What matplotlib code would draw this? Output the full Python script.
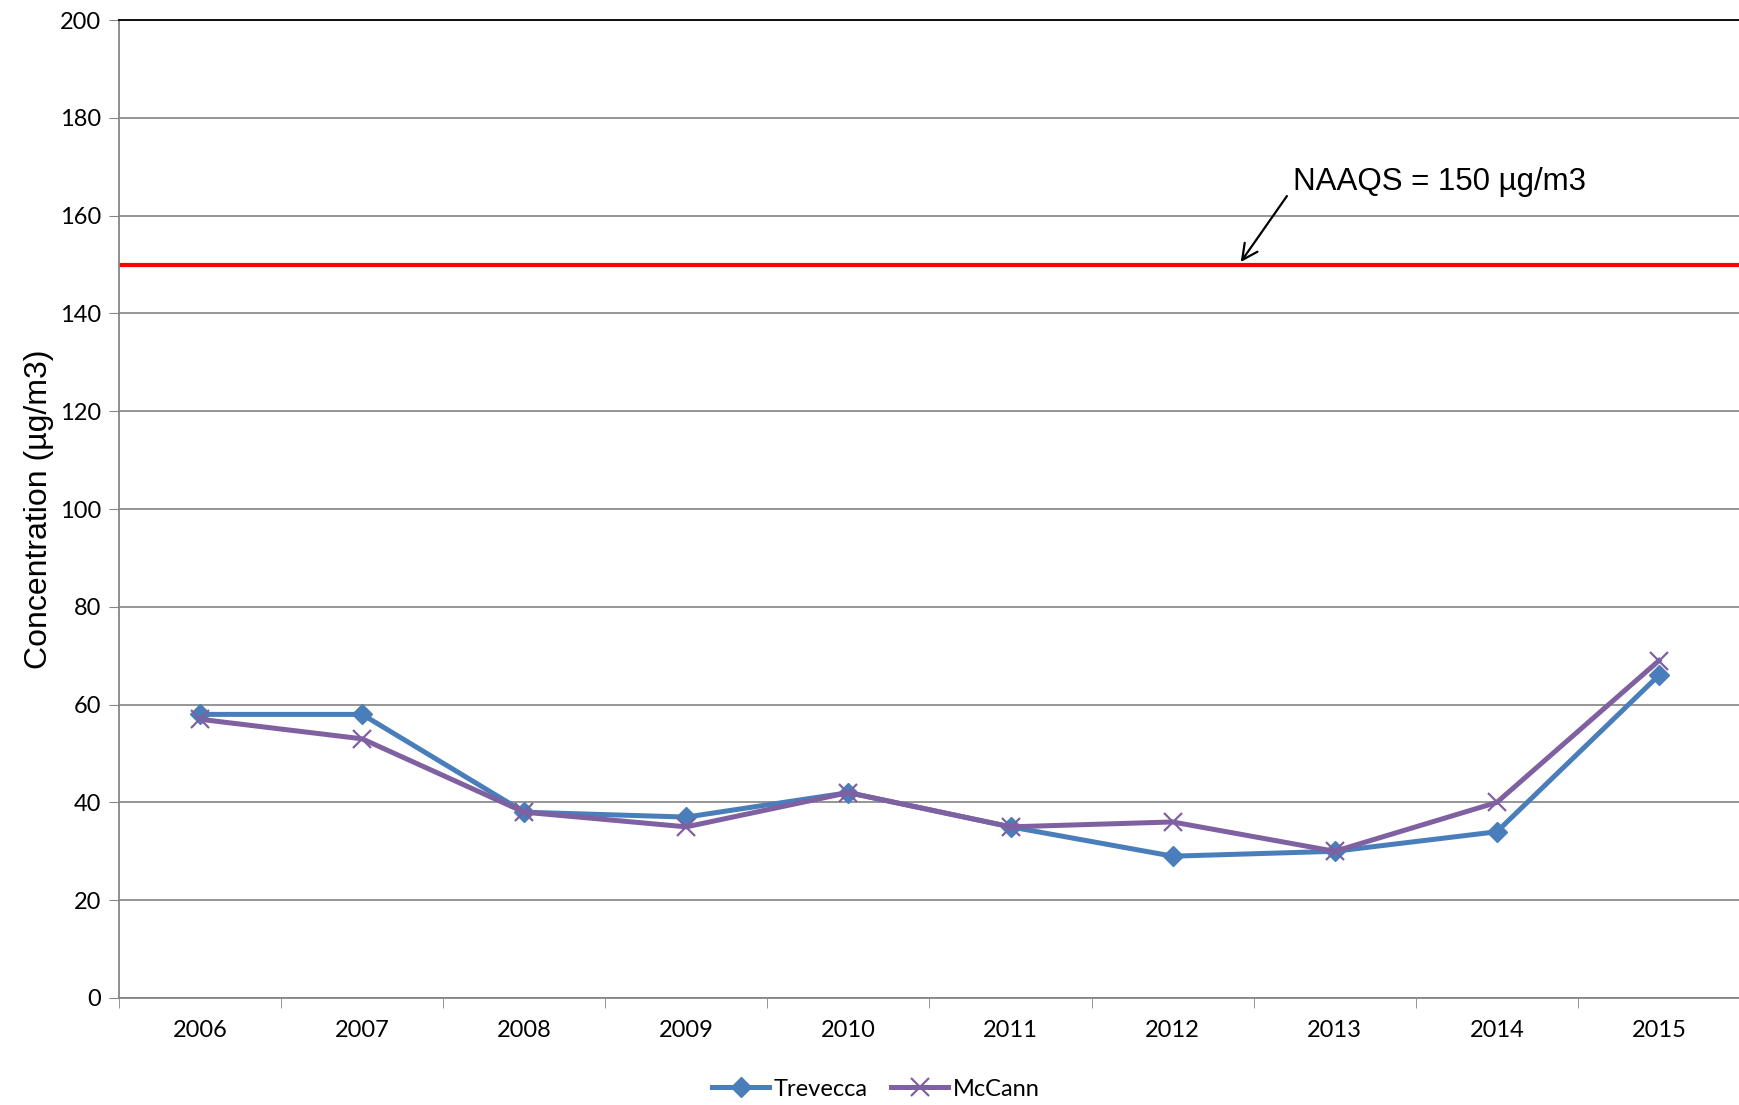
import matplotlib
matplotlib.use('Agg')
import matplotlib.pyplot as plt
import numpy as np

years = ['2006', '2007', '2008', '2009', '2010', '2011', '2012', '2013', '2014', '2015']
trevecca = [58, 58, 38, 37, 42, 35, 29, 30, 34, 66]
mccann = [57, 53, 38, 35, 42, 35, 36, 30, 40, 69]
naaqs = 150

fig = plt.figure(figsize=(17.4, 11.05), dpi=100)
ax = fig.add_axes([119 / 1740, 1 - 998 / 1105, 1 - 119 / 1740, (998 - 20) / 1105])

x = np.arange(len(years))
ax.axhline(naaqs, color='#ff0000', lw=3, zorder=2)
ax.plot(x, trevecca, color='#4a7ebb', lw=3.6, marker='D', markersize=10, label='Trevecca', zorder=3)
ax.plot(x, mccann, color='#7f60a0', lw=3.6, marker='x', markersize=13, markeredgewidth=1.6,
        label='McCann', zorder=4)

ax.set_xlim(-0.5, len(years) - 0.5)
ax.set_ylim(0, 200)
ax.set_yticks(range(0, 201, 20))
ax.set_xticks(x)
ax.set_xticklabels(years)
ax.set_xticks(np.arange(-0.5, len(years), 1), minor=True)
ax.tick_params(axis='x', which='major', length=0, pad=16, labelsize=17)
ax.tick_params(axis='x', which='minor', length=7, color='#868686', direction='out')
ax.tick_params(axis='y', length=7, color='#868686', labelsize=17, pad=6)
for lbl in ax.get_xticklabels() + ax.get_yticklabels():
    lbl.set_fontfamily('Lato')

ax.grid(axis='y', color='#8c8c8c', lw=1.3)
ax.set_axisbelow(True)
ax.spines['right'].set_visible(False)
ax.spines['top'].set_color('black')
ax.spines['top'].set_linewidth(1.3)
ax.spines['left'].set_color('#868686')
ax.spines['bottom'].set_color('#868686')
ax.spines['left'].set_linewidth(1.3)
ax.spines['bottom'].set_linewidth(1.3)

ax.set_ylabel('Concentration (\u00b5g/m3)', fontsize=23, family='Liberation Sans', labelpad=4)

ax.annotate('', xy=(6.42, 150.5), xytext=(6.705, 164),
            arrowprops=dict(arrowstyle='->', color='black', lw=1.6,
                            mutation_scale=28, shrinkA=0, shrinkB=0))
ax.text(6.74, 166.8, 'NAAQS = 150 \u00b5g/m3', fontsize=22.5, family='Liberation Sans',
        va='center', ha='left')

leg = fig.legend(loc='center', bbox_to_anchor=(876 / 1740, 1 - 1089 / 1105), ncol=2,
                 frameon=False, handlelength=2.4, columnspacing=1.0,
                 handletextpad=0.2, prop={'family': 'Lato', 'size': 17})

fig.savefig('out.png', dpi=100)
